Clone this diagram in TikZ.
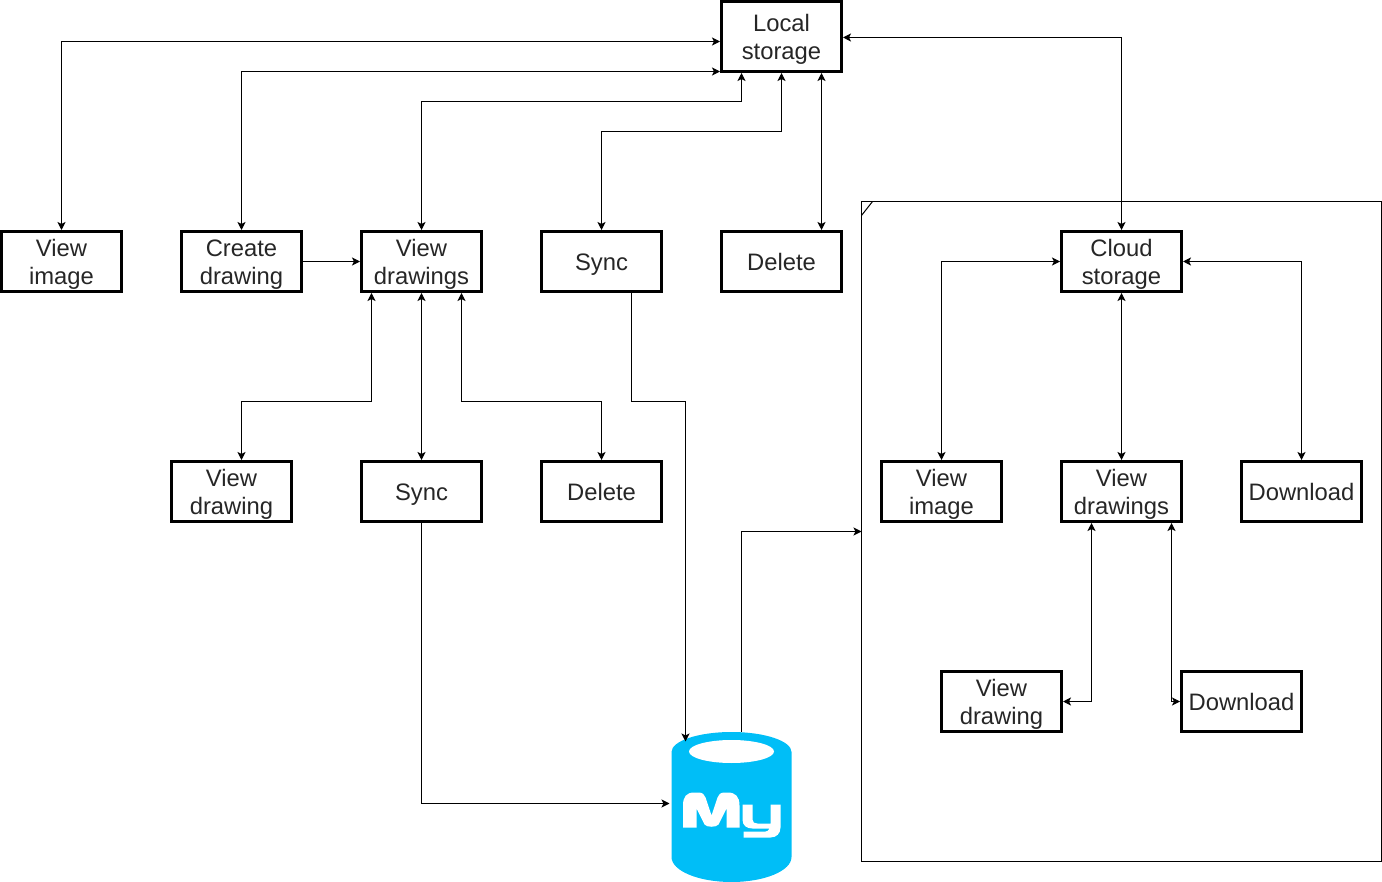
\documentclass[tikz,border=0pt]{standalone}
\usepackage{fontspec}
\setmainfont{Liberation Sans}
\usetikzlibrary{arrows.meta,calc}
\definecolor{dbblue}{HTML}{00BEF7}
\tikzset{
  >={Stealth[length=8pt,width=8pt,inset=2pt]},
  box/.style={draw=black, line width=3pt, minimum width=120pt, minimum height=60pt, inner sep=0pt, align=center, text=black!85,
    font=\fontsize{23.8}{28}\selectfont, text height=23pt, text depth=5pt},
  boxtwo/.style={box, text height=51pt},
  link/.style={draw=black, line width=1pt},
  frame/.style={draw=black, line width=1pt},
}
\begin{document}
\begin{tikzpicture}[x=1pt,y=-1pt]
\useasboundingbox (0,0) rectangle (1382,882);
\begin{scope}[shift={(0.5,0.5)}]
% cloud frame
\node[frame, minimum width=520pt, minimum height=660pt, inner sep=0pt, outer sep=0pt, anchor=north west] (cloudframe) at (861,201) {};
\draw[frame] (861,215) -- (872,201);
% local side
\node[boxtwo, minimum height=70pt] (localstorage) at (781,36) {Local\\storage};
\node[boxtwo] (viewimage) at (61,261) {View\\image};
\node[boxtwo] (createdrawing) at (241,261) {Create\\drawing};
\node[boxtwo] (viewdrawings) at (421,261) {View\\drawings};
\node[box] (syncup) at (601,261) {Sync};
\node[box] (deleteup) at (781,261) {Delete};
\node[boxtwo] (viewdrawing) at (231,491) {View\\drawing};
\node[box] (syncdown) at (421,491) {Sync};
\node[box] (deletedown) at (601,491) {Delete};
% cloud side
\node[boxtwo] (cloudstorage) at (1121,261) {Cloud\\storage};
\node[boxtwo] (cloudimage) at (941,491) {View\\image};
\node[boxtwo] (clouddrawings) at (1121,491) {View\\drawings};
\node[box] (clouddownload) at (1301,491) {Download};
\node[boxtwo] (clouddrawing) at (1001,701) {View\\drawing};
\node[box] (drawingdownload) at (1241,701) {Download};
% database
\fill[dbblue] (671,751.5) arc[start angle=180, end angle=360, x radius=60, y radius=20]
  -- (791,856.5) arc[start angle=0, end angle=180, x radius=60, y radius=25] -- cycle;
\fill[white] (731,751) ellipse[x radius=42.5, y radius=11.5];
\fill[white] (682.5,827) -- (682.5,805) .. controls (682.5,796) and (686,792) .. (694,792)
  -- (698,792) .. controls (702,792) and (704,794) .. (705,797) -- (711,815)
  -- (717,797) .. controls (718,794) and (720,792) .. (724,792)
  -- (727,792) .. controls (735,792) and (739,796) .. (739,805) -- (739,827)
  -- (726,827) -- (726,808) -- (718,824) .. controls (716,827) and (706,827) .. (704,824)
  -- (696,808) -- (696,827) -- cycle;
\fill[white] (742,804) -- (752,804) -- (752,819) .. controls (752,822) and (754,823) .. (757,823)
  -- (770,823) -- (770,804) -- (780,804)
  -- (780,827) .. controls (780,833) and (776,837) .. (770,837) -- (743,837) -- (743,831)
  -- (765,831) .. controls (767,831) and (768,830) .. (769,828) -- (752,828)
  .. controls (746,828) and (742,825) .. (742,819) -- cycle;
\coordinate (dbtop) at (741,731);
\coordinate (dbleft) at (669,803);
\coordinate (dbin) at (685,741);
% links to local storage
\draw[link,<->] (viewimage.north) |- ($(localstorage.west)+(0,5)$);
\draw[link,<->] (createdrawing.north) |- ($(localstorage.west)+(0,35)$);
\draw[link,<->] (viewdrawings.north) |- (741,101) -- ($(localstorage.south)+(-40,0)$);
\draw[link,<->] (syncup.north) |- (781,131) -- (localstorage.south);
\draw[link,<->] ($(deleteup.north)+(40,0)$) -- ($(localstorage.south)+(40,0)$);
\draw[link,<->] (cloudstorage.north) |- ($(localstorage.east)+(0,1)$);
% view drawings
\draw[link,->] (createdrawing.east) -- (viewdrawings.west);
\draw[link,<->] ($(viewdrawings.south)+(-50,0)$) |- (241,401) -- ($(viewdrawing.north)+(10,0)$);
\draw[link,<->] (viewdrawings.south) -- (syncdown.north);
\draw[link,<->] ($(viewdrawings.south)+(40,0)$) |- (601,401) -- (deletedown.north);
% to database
\draw[link,->] ($(syncup.south)+(30,0)$) |- (685,401) -- (dbin);
\draw[link,->] (syncdown.south) |- (dbleft);
\draw[link,->] (dbtop) |- (cloudframe.west);
% cloud links
\draw[link,<->] (cloudstorage.west) -| (cloudimage.north);
\draw[link,<->] (cloudstorage.south) -- (clouddrawings.north);
\draw[link,<->] (cloudstorage.east) -| (clouddownload.north);
\draw[link,<->] ($(clouddrawings.south)+(-30,0)$) |- (clouddrawing.east);
\draw[link,<->] ($(clouddrawings.south)+(50,0)$) |- (drawingdownload.west);
\end{scope}
\end{tikzpicture}
\end{document}
